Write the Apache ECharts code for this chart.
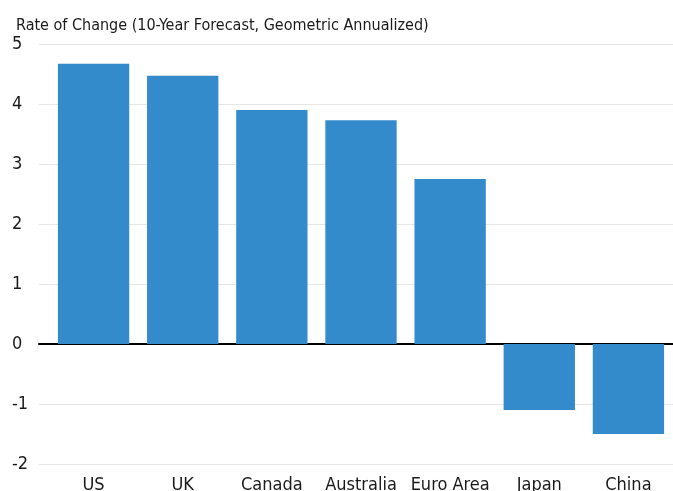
<!DOCTYPE html>
<html><head><meta charset="utf-8">
<script src="https://cdn.jsdelivr.net/npm/echarts@6/dist/echarts.min.js"></script>
<style>html,body{margin:0;padding:0;background:#fff}#c{width:673px;height:491px}</style>
</head><body><div id="c"></div>
<script>
const categories = ['US','UK','Canada','Australia','Euro Area','Japan','China'];
const values = [4.67, 4.47, 3.9, 3.73, 2.75, -1.1, -1.5];
const yTicks = [-2,-1,0,1,2,3,4,5];
const titleText = 'Rate of Change (10-Year Forecast, Geometric Annualized)';
const FONT = '"DejaVu Sans Condensed", "Liberation Sans Narrow", sans-serif';
const chart = echarts.init(document.getElementById('c'));
chart.setOption({
  animation: false,
  title: { text: titleText, left: 11, top: 13,
    textStyle: { fontFamily: FONT, fontSize: 16, fontWeight: 'normal', color: '#1a1a1a' } },
  grid: [
    { left: 39, right: 0, top: 44, bottom: 27, outerBoundsMode: 'none', containLabel: false },
    { left: 49, right: 0, top: 44, bottom: 27, outerBoundsMode: 'none', containLabel: false }
  ],
  xAxis: [
    { type: 'category', gridIndex: 0, data: categories,
      axisLine: { show: true, onZero: true, lineStyle: { color: '#000', width: 2 } },
      axisTick: { show: false }, axisLabel: { show: false } },
    { type: 'category', gridIndex: 1, data: categories, position: 'bottom',
      axisLine: { show: false, onZero: false }, axisTick: { show: false },
      axisLabel: { show: true, margin: 12, fontFamily: FONT, fontSize: 18, color: '#1a1a1a', interval: 0 } }
  ],
  yAxis: [
    { type: 'value', gridIndex: 0, min: yTicks[0], max: yTicks[yTicks.length-1], interval: 1,
      axisLine: { show: false }, axisTick: { show: false },
      axisLabel: { show: true, color: '#1a1a1a', fontFamily: FONT, fontSize: 18, align: 'left', margin: 27 },
      splitLine: { show: true, lineStyle: { color: '#e6e6e6', width: 1 } } },
    { type: 'value', gridIndex: 1, min: yTicks[0], max: yTicks[yTicks.length-1], interval: 1,
      show: false, splitLine: { show: false } }
  ],
  series: [
    { type: 'bar', xAxisIndex: 1, yAxisIndex: 1, data: values, barCategoryGap: '20%',
      itemStyle: { color: '#348bcb' } }
  ]
});
</script></body></html>
